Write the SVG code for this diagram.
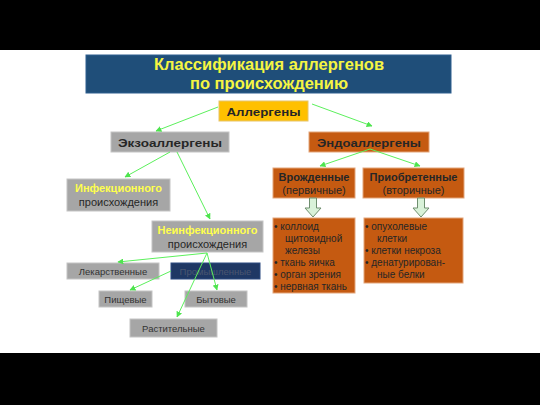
<svg xmlns="http://www.w3.org/2000/svg" width="540" height="405" viewBox="0 0 540 405">
<defs>
<marker id="ah" viewBox="0 0 10 10" refX="9" refY="5" markerWidth="6" markerHeight="6" orient="auto" markerUnits="userSpaceOnUse">
<path d="M0,0 L10,5 L0,10 z" fill="#4ee44e"/>
</marker>
<style>
text{font-family:"Liberation Sans",Arial,sans-serif;}
.gray{fill:#a6a6a6;stroke:#c4c4c4;stroke-width:1;}
.org{fill:#c55a11;stroke:#e3a57a;stroke-width:1;}
.t{fill:#262626;font-size:11px;text-anchor:middle;}
.tb{font-weight:bold;}
.y{fill:#ffff4d;}
.s{fill:#333;font-size:9.5px;text-anchor:middle;}
.li{fill:#262626;font-size:10px;}
.con line{stroke:#5cf05c;stroke-width:1;marker-end:url(#ah);}
.hol{fill:#d9f2d9;stroke:#6f8f6f;stroke-width:1;}
</style>
</defs>
<rect x="0" y="0" width="540" height="405" fill="#ffffff"/>
<rect x="0" y="0" width="540" height="50" fill="#000"/>
<rect x="0" y="353" width="540" height="52" fill="#000"/>

<g id="title">
<rect x="86" y="55" width="365" height="38" fill="#1f4e79" stroke="#2e5f8f"/>
<text x="269" y="70" text-anchor="middle" font-size="16.5" font-weight="bold" fill="#f5f542">Классификация аллергенов</text>
<text x="269" y="89" text-anchor="middle" font-size="16.5" font-weight="bold" fill="#f5f542">по происхождению</text>
</g>

<g id="allergens">
<rect x="219" y="101" width="89" height="20" fill="#ffc000" stroke="#e6c46a"/>
<text x="263.5" y="116" class="t tb" font-size="13.5" textLength="74" lengthAdjust="spacingAndGlyphs">Аллергены</text>
</g>

<g id="exo">
<rect x="111" y="132" width="118" height="20" class="gray"/>
<text x="170" y="147" class="t tb" font-size="13.5" textLength="104" lengthAdjust="spacingAndGlyphs">Экзоаллергены</text>
</g>

<g id="endo">
<rect x="309" y="132" width="120" height="20" class="org"/>
<text x="369" y="147" class="t tb" font-size="13.5" textLength="104" lengthAdjust="spacingAndGlyphs">Эндоаллергены</text>
</g>

<g id="infect">
<rect x="67" y="179" width="103" height="32" class="gray"/>
<text x="118.5" y="192" class="t tb y">Инфекционного</text>
<text x="118.5" y="206" class="t">происхождения</text>
</g>

<g id="noninfect">
<rect x="152" y="221" width="111" height="31" class="gray"/>
<text x="207.5" y="234" class="t tb y">Неинфекционного</text>
<text x="207.5" y="248" class="t">происхождения</text>
</g>

<g id="innate">
<rect x="273" y="168" width="82" height="30" class="org"/>
<text x="314" y="181" class="t tb">Врожденные</text>
<text x="314" y="194" class="t">(первичные)</text>
</g>

<g id="acquired">
<rect x="363" y="168" width="101" height="30" class="org"/>
<text x="413.5" y="181" class="t tb">Приобретенные</text>
<text x="413.5" y="194" class="t">(вторичные)</text>
</g>

<g id="innate-list">
<rect x="273" y="218" width="82" height="75" class="org"/>
<text class="li">
<tspan x="274" y="230">• коллоид</tspan>
<tspan x="285" y="242">щитовидной</tspan>
<tspan x="285" y="254">железы</tspan>
<tspan x="274" y="266">• ткань яичка</tspan>
<tspan x="274" y="278">• орган зрения</tspan>
<tspan x="274" y="290">• нервная ткань</tspan>
</text>
</g>

<g id="acquired-list">
<rect x="364" y="218" width="99" height="65" class="org"/>
<text class="li">
<tspan x="365" y="230">• опухолевые</tspan>
<tspan x="377" y="242">клетки</tspan>
<tspan x="365" y="254">• клетки некроза</tspan>
<tspan x="365" y="266">• денатурирован-</tspan>
<tspan x="377" y="278">ные белки</tspan>
</text>
</g>

<g id="hollow-arrows">
<path class="hol" d="M309.5,198 h7 v10 h4.5 l-8,9 l-8,-9 h4.5 z"/>
<path class="hol" d="M417.5,198 h7 v10 h4.5 l-8,9 l-8,-9 h4.5 z"/>
</g>

<g id="drug">
<rect x="67" y="263" width="92" height="16" class="gray"/>
<text x="113" y="274.5" class="s">Лекарственные</text>
</g>

<g id="food">
<rect x="99" y="291" width="53" height="16" class="gray"/>
<text x="125.5" y="302.5" class="s">Пищевые</text>
</g>

<g id="household">
<rect x="185" y="291" width="62" height="16" class="gray"/>
<text x="216" y="302.5" class="s">Бытовые</text>
</g>

<g id="plant">
<rect x="130" y="319" width="87" height="18" class="gray"/>
<text x="173.5" y="331.5" class="s">Растительные</text>
</g>

<g id="industrial">
<rect x="171" y="263" width="89" height="16" fill="#1f3864" stroke="#2c4a80"/>
<text x="215.5" y="274.5" class="s" style="fill:#4a5670">Промышленные</text>
</g>

<g class="con" id="connectors">
<line x1="218" y1="107" x2="156" y2="131"/>
<line x1="312" y1="104" x2="372" y2="126"/>
<line x1="170" y1="152" x2="125" y2="177"/>
<line x1="177" y1="152" x2="210" y2="219"/>
<line x1="370" y1="149" x2="320" y2="166"/>
<line x1="370" y1="149" x2="420" y2="166"/>
<line x1="207" y1="253" x2="118" y2="262"/>
<line x1="171" y1="271" x2="130" y2="290"/>
<line x1="207" y1="253" x2="217" y2="290"/>
<line x1="207" y1="253" x2="177" y2="317"/>
</g>
</svg>
